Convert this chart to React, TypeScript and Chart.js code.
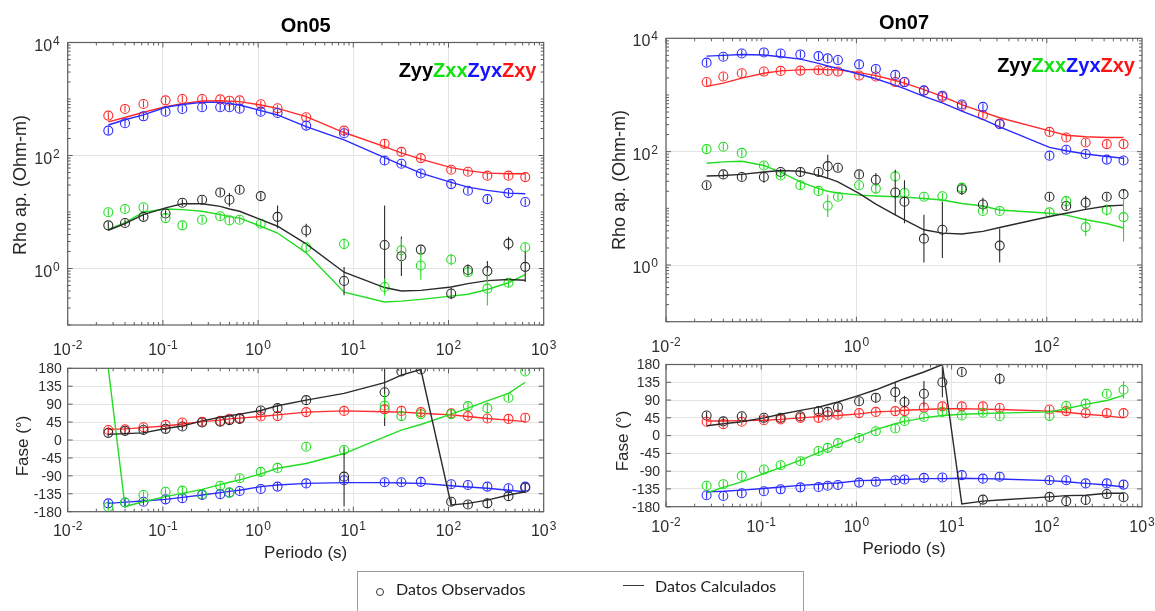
import React, { useEffect, useRef } from 'react';
import { Chart, registerables } from 'chart.js';

Chart.register(...registerables);

const SANS = '"Liberation Sans", Arial, Helvetica, sans-serif';
const RED = '#ff2a2a';
const BLUE = '#2a2aff';
const GREEN = '#22dd22';
const BLACK = '#2b2b2b';
const GRID = '#e4e4e4';
const FRAME = '#5e5e5e';
const TICK_TEXT = '#2e2e2e';

// Sounding periods (s)
const periodsOn05 = [0.0267, 0.04, 0.0625, 0.1067, 0.16, 0.2581, 0.4, 0.5, 0.64, 1.067, 1.6, 3.2, 8, 21.33, 32, 51.2, 106.7, 160, 256, 426.7, 640];
const periodsOn07 = [0.0267, 0.04, 0.0625, 0.1067, 0.16, 0.2581, 0.4, 0.5, 0.64, 1.067, 1.6, 2.56, 3.2, 5.12, 8, 12.8, 21.33, 32, 106.7, 160, 256, 426.7, 640];

// On05 apparent resistivity (Ohm-m); errors in decades
const rho05ZyyObs = [5.8, 6.4, 8.2, 9.4, 14.6, 16.5, 22.2, 16.5, 24.8, 19.1, 8.2, 4.7, 0.6, 2.6, 1.65, 2.16, 0.36, 0.94, 0.9, 2.76, 1.07];
const rho05ZyyCalc = [4.75, 6.2, 9.0, 11.8, 14.0, 14.0, 12.6, 11.3, 10.3, 7.3, 5.6, 2.72, 0.86, 0.46, 0.4, 0.41, 0.47, 0.54, 0.61, 0.64, 0.62];
const rho05ZyyErr = [0.06, 0.06, 0.06, 0.06, 0.06, 0.06, 0.06, 0.12, 0.06, 0.06, 0.2, 0.12, 0.25, 0.7, 0.35, 0.06, 0.1, 0.1, 0.18, 0.12, 0.27];
const rho05ZxxObs = [9.9, 11.3, 12.1, 7.8, 5.8, 7.3, 8.4, 7.1, 7.3, 6.2, null, 2.38, 2.72, 0.47, 2.1, 1.13, 1.44, 0.86, 0.44, 0.56, 2.38];
const rho05ZxxCalc = [4.9, 6.5, 9.9, 11.3, 11.0, 10.3, 9.0, 8.3, 7.8, 5.6, 4.25, 1.89, 0.38, 0.255, 0.265, 0.284, 0.325, 0.35, 0.425, 0.56, 0.78];
const rho05ZxxErr = [0.06, 0.06, 0.06, 0.06, 0.06, 0.06, 0.06, 0.06, 0.06, 0.06, 0.06, 0.08, 0.1, 0.15, 0.2, 0.25, 0.1, 0.06, 0.3, 0.08, 0.08];
const rho05ZyxObs = [276, 372, 494, 597, 667, 713, 713, 713, 675, 597, 566, 338, 248, 81.6, 71.3, 48, 31.2, 23.8, 16.9, 21.6, 15];
const rho05ZyxCalc = [347, 430, 522, 713, 800, 873, 873, 830, 783, 622, 522, 325, 189, 92, 68, 48.7, 33.4, 27.6, 24.1, 21.6, 21.1];
const rho05ZyxErr = [0.06, 0.06, 0.06, 0.06, 0.06, 0.06, 0.06, 0.06, 0.06, 0.06, 0.06, 0.06, 0.06, 0.08, 0.06, 0.06, 0.06, 0.06, 0.06, 0.06, 0.06];
const rho05ZxyObs = [508, 667, 817, 946, 1000, 1000, 986, 934, 946, 806, 684, 474, 276, 161, 116, 90, 56, 51.5, 44, 44, 41.5];
const rho05ZxyCalc = [393, 470, 582, 733, 830, 922, 930, 915, 898, 783, 684, 487, 255, 144, 111, 86, 61, 54, 48.7, 47.4, 47.4];
const rho05ZxyErr = [0.06, 0.06, 0.06, 0.06, 0.06, 0.06, 0.06, 0.06, 0.06, 0.06, 0.06, 0.06, 0.06, 0.08, 0.06, 0.06, 0.06, 0.06, 0.06, 0.06, 0.06];

// On05 phase (degrees)
const ph05ZyyObs = [18, 23, 25, 28, 34, 44, 46, 50, 53, 74, 80, 100, -92, 120, 172, 177, -155, -162, -159, -141, -120];
const ph05ZyyCalc = [14, 16, 18, 29, 35, 48, 57, 61, 65, 74, 86, 100, 117, 144, 163, 177, -163, -159, -151, -138, -130];
const ph05ZyyErr = [9, 9, 9, 9, 9, 9, 9, 9, 9, 9, 9, 9, 75, 85, 9, 9, 9, 9, 12, 9, 10];
const ph05ZxxObs = [-168, -157, -138, -130, -127, -136, -115, -132, -96, -80, -70, -17, -25, 86, 60, 65, 65, 85, 80, 106, 172];
const ph05ZxxCalc = [180, -167, -155, -142, -134, -124, -112, -106, -100, -85, -71, -59, -34, 8, 25, 39, 65, 80, 98, 117, 145];
const ph05ZxxErr = [9, 9, 9, 9, 9, 9, 9, 9, 9, 9, 9, 9, 9, 30, 12, 9, 9, 9, 14, 9, 9];
const ph05ZyxObs = [-159, -157, -155, -149, -146, -138, -136, -132, -128, -123, -117, -109, -101, -106, -106, -105, -111, -113, -117, -121, -117];
const ph05ZyxCalc = [-159, -156, -153, -149, -144, -138, -132, -129, -126, -117, -113, -109, -107, -107, -108, -109, -115, -118, -121, -126, -130];
const ph05ZyxErr = [9, 9, 9, 9, 9, 9, 9, 9, 9, 9, 9, 9, 9, 9, 9, 9, 9, 9, 9, 9, 9];
const ph05ZxyObs = [25, 27, 32, 38, 44, 46, 48, 53, 55, 59, 60, 70, 73, 77, 73, 70, 67, 60, 54, 53, 56];
const ph05ZxyCalc = [27, 28, 31, 35, 40, 46, 50, 53, 55, 59, 63, 70, 73, 71, 70, 67, 63, 59, 54, 50, 46];
const ph05ZxyErr = [9, 9, 9, 9, 9, 9, 9, 9, 9, 9, 9, 9, 9, 12, 9, 9, 9, 9, 9, 9, 9];

// On07 apparent resistivity (Ohm-m); errors in decades
const rho07ZyyObs = [25.5, 39.7, 35.7, 35.7, 43.7, 43.7, 43.7, 55.5, 51.9, 39.7, 32, 19, 13.1, 2.92, 4.19, 21.7, 11.7, 2.2, 16, 11, 12.6, 16, 17.8];
const rho07ZyyCalc = [37.1, 38, 39.7, 43.7, 46.6, 45, 38.1, 34, 29.2, 18.3, 11.9, 7.66, 6.27, 4.19, 3.66, 3.52, 3.92, 4.6, 7.17, 8.2, 9.6, 11, 11.4];
const rho07ZyyErr = [0.06, 0.06, 0.06, 0.1, 0.06, 0.08, 0.06, 0.2, 0.06, 0.06, 0.12, 0.4, 0.38, 0.42, 0.5, 0.1, 0.12, 0.3, 0.06, 0.06, 0.12, 0.06, 0.08];
const rho07ZxxObs = [111, 122, 95, 57, 38, 25.5, 20.3, 11.1, 16, 25.5, 22.3, 36.6, 18.7, 16, 16.3, 23.2, 9, 9, 8.5, 13.4, 4.67, 9.35, 7];
const rho07ZxxCalc = [62.6, 66, 67.8, 57, 43.7, 29.2, 22.3, 20, 18.7, 17.1, 16.5, 16, 15.8, 14.9, 14, 12.2, 11, 9.35, 8.2, 7.6, 6.3, 5.4, 4.5];
const rho07ZxxErr = [0.06, 0.06, 0.06, 0.06, 0.06, 0.08, 0.06, 0.2, 0.06, 0.06, 0.08, 0.06, 0.06, 0.06, 0.06, 0.06, 0.06, 0.06, 0.06, 0.08, 0.16, 0.1, 0.43];
const rho07ZyxObs = [3715, 4720, 5400, 5630, 5400, 5190, 4850, 4420, 4130, 3470, 2880, 2260, 1690, 1205, 972, 678, 618, 304, 85, 108, 91, 72.4, 69.7];
const rho07ZyxCalc = [4850, 5000, 5190, 5060, 4720, 4300, 3610, 3250, 2950, 2320, 1930, 1475, 1290, 948, 725, 519, 371, 273, 119, 104, 91, 82, 76.5];
const rho07ZyxErr = [0.06, 0.06, 0.06, 0.06, 0.06, 0.06, 0.06, 0.06, 0.06, 0.06, 0.06, 0.06, 0.06, 0.06, 0.06, 0.06, 0.06, 0.06, 0.06, 0.06, 0.06, 0.06, 0.06];
const rho07ZxyObs = [1690, 2120, 2420, 2590, 2660, 2690, 2730, 2660, 2590, 2200, 2120, 1690, 1690, 1190, 922, 634, 441, 312, 223, 178, 145, 136, 136];
const rho07ZxyCalc = [1415, 1620, 1980, 2420, 2660, 2770, 2840, 2800, 2770, 2480, 2200, 1800, 1620, 1240, 948, 678, 499, 397, 232, 195, 183, 178, 178];
const rho07ZxyErr = [0.06, 0.06, 0.06, 0.06, 0.06, 0.06, 0.06, 0.06, 0.06, 0.06, 0.06, 0.06, 0.06, 0.06, 0.06, 0.06, 0.06, 0.06, 0.06, 0.06, 0.06, 0.06, 0.06];

// On07 phase (degrees)
const ph07ZyyObs = [51, 36, 49, 45, 45, 49, 62, 60, 72, 87, 96, 110, 85, 106, 135, 161, -162, 144, -155, -166, -163, -148, -156];
const ph07ZyyCalc = [25, 30, 35, 45, 54, 64, 72, 78, 85, 102, 116, 135, 144, 161, 180, -173, -166, -163, -155, -152, -151, -146, -146];
const ph07ZyyErr = [9, 9, 9, 9, 9, 9, 9, 9, 9, 9, 12, 25, 16, 32, 38, 9, 9, 14, 9, 9, 12, 9, 9];
const ph07ZxxObs = [-127, -123, -102, -86, -75, -65, -39, -31, -19, -6, 11, 18, 37, 47, 60, 51, 58, 49, 50, 75, 81, 106, 116];
const ph07ZxxCalc = [-145, -131, -117, -96, -81, -62, -43, -33, -22, -2, 15, 30, 36, 45, 51, 54, 56, 57, 60, 68, 79, 89, 102];
const ph07ZxxErr = [9, 9, 9, 9, 9, 9, 9, 12, 9, 9, 9, 9, 9, 9, 9, 9, 9, 9, 9, 9, 9, 9, 22];
const ph07ZyxObs = [-151, -153, -146, -141, -136, -131, -130, -127, -125, -119, -117, -113, -111, -107, -106, -100, -109, -104, -113, -113, -121, -121, -124];
const ph07ZyxCalc = [-142, -141, -138, -134, -130, -126, -123, -121, -120, -114, -113, -111, -111, -109, -109, -108, -109, -110, -114, -117, -121, -125, -130];
const ph07ZyxErr = [9, 9, 9, 9, 9, 9, 9, 9, 9, 9, 9, 9, 9, 9, 9, 9, 9, 9, 9, 9, 9, 9, 9];
const ph07ZxyObs = [35, 29, 35, 39, 41, 45, 45, 51, 53, 57, 60, 62, 62, 71, 74, 74, 74, 70, 66, 62, 57, 57, 57];
const ph07ZxyCalc = [37, 37, 38, 39, 41, 45, 48, 50, 51, 55, 60, 62, 64, 66, 68, 68, 67, 66, 62, 59, 54, 50, 45];
const ph07ZxyErr = [9, 9, 9, 9, 9, 9, 9, 9, 9, 9, 9, 9, 9, 9, 9, 9, 9, 9, 9, 9, 9, 9, 9];

// Axis tick definitions
const periodExps = [-2, -1, 0, 1, 2, 3];
const periodExpsSparse = [-2, 0, 2];
const rhoExps = [0, 2, 4];
const phaseTicks = [-180, -135, -90, -45, 0, 45, 90, 135, 180];

type Curve = { color: string; obs: (number | null)[]; calc: number[]; err: number[] };
type Panel = {
  kind: 'rho' | 'phase';
  periods: number[];
  curves: Curve[];
  left: number;
  top: number;
  width: number;
  height: number;
  pad: { left: number; top: number; right: number; bottom: number };
  xMajor: number[];
  xLabelDy: number;
};

function drawPow(ctx: CanvasRenderingContext2D, exp: number, x: number, base: number, align: 'center' | 'right') {
  ctx.fillStyle = TICK_TEXT;
  ctx.textAlign = 'left';
  ctx.textBaseline = 'alphabetic';
  ctx.font = `16px ${SANS}`;
  const b = '10';
  const wb = ctx.measureText(b).width;
  ctx.font = `12px ${SANS}`;
  const s = String(exp);
  const ws = ctx.measureText(s).width;
  const total = wb + 1 + ws;
  const x0 = align === 'center' ? x - total / 2 : x - total;
  ctx.font = `16px ${SANS}`;
  ctx.fillText(b, x0, base);
  ctx.font = `12px ${SANS}`;
  ctx.fillText(s, x0 + wb + 1, base - 6);
}

const axisDecor = {
  id: 'axisDecor',
  afterDatasetsDraw(chart: any) {
    const { ctx, chartArea: a, scales } = chart;
    const xs = scales.x;
    const ys = scales.y;
    ctx.save();
    ctx.beginPath();
    ctx.rect(a.left, a.top, a.right - a.left, a.bottom - a.top);
    ctx.clip();
    chart.data.datasets.forEach((ds: any) => {
      if (!ds.errBars) return;
      ctx.strokeStyle = ds.borderColor;
      ctx.lineWidth = 1.1;
      ds.data.forEach((pt: any, i: number) => {
        if (pt.y == null) return;
        const e = ds.errBars[i];
        const hi = ds.logErr ? pt.y * Math.pow(10, e) : pt.y + e;
        const lo = ds.logErr ? pt.y / Math.pow(10, e) : pt.y - e;
        const px = xs.getPixelForValue(pt.x);
        ctx.beginPath();
        ctx.moveTo(px, ys.getPixelForValue(hi));
        ctx.lineTo(px, ys.getPixelForValue(lo));
        ctx.stroke();
      });
    });
    ctx.restore();
  },
  afterDraw(chart: any, _args: any, opts: any) {
    const { ctx, chartArea: a, scales } = chart;
    const xs = scales.x;
    const ys = scales.y;
    const seg = (x1: number, y1: number, x2: number, y2: number) => {
      ctx.beginPath();
      ctx.moveTo(x1, y1);
      ctx.lineTo(x2, y2);
      ctx.stroke();
    };
    ctx.save();
    ctx.strokeStyle = FRAME;
    ctx.lineWidth = 1;
    // period ticks, top and bottom
    for (let e = -2; e < 3; e++) {
      for (let m = 1; m < 10; m++) {
        const px = xs.getPixelForValue(m * Math.pow(10, e));
        const len = m === 1 && opts.xMajor.includes(e) ? 5 : 3;
        seg(px, a.bottom, px, a.bottom - len);
        seg(px, a.top, px, a.top + len);
      }
    }
    // value ticks, left and right
    if (opts.kind === 'rho') {
      for (let e = -1; e < 4; e++) {
        for (let m = 1; m < 10; m++) {
          const py = ys.getPixelForValue(m * Math.pow(10, e));
          const len = m === 1 && rhoExps.includes(e) ? 5 : 3;
          seg(a.left, py, a.left + len, py);
          seg(a.right, py, a.right - len, py);
        }
      }
    } else {
      phaseTicks.forEach((v) => {
        const py = ys.getPixelForValue(v);
        seg(a.left, py, a.left + 5, py);
        seg(a.right, py, a.right - 5, py);
      });
    }
    // box
    ctx.lineWidth = 1.2;
    ctx.strokeRect(a.left, a.top, a.right - a.left, a.bottom - a.top);

    // tick labels
    opts.xMajor.forEach((e: number) => {
      drawPow(ctx, e, xs.getPixelForValue(Math.pow(10, e)), a.bottom + opts.xLabelDy, 'center');
    });
    if (opts.kind === 'rho') {
      rhoExps.forEach((e) => {
        drawPow(ctx, e, a.left - 8, ys.getPixelForValue(Math.pow(10, e)) + 8, 'right');
      });
    } else {
      ctx.fillStyle = TICK_TEXT;
      ctx.font = `14px ${SANS}`;
      ctx.textAlign = 'right';
      ctx.textBaseline = 'middle';
      phaseTicks.forEach((v) => ctx.fillText(String(v), a.left - 6, ys.getPixelForValue(v) + 1));
    }
    ctx.restore();
  },
};

function buildConfig(p: Panel) {
  const logErr = p.kind === 'rho';
  const datasets: any[] = [];
  p.curves.forEach((c) => {
    datasets.push({
      data: p.periods.map((t, i) => ({ x: t, y: c.calc[i] })),
      borderColor: c.color,
      borderWidth: 1.4,
      pointRadius: 0,
      fill: false,
      tension: 0,
    });
    datasets.push({
      data: p.periods.map((t, i) => ({ x: t, y: c.obs[i] })),
      showLine: false,
      borderColor: c.color,
      pointBorderColor: c.color,
      pointBackgroundColor: 'rgba(0,0,0,0)',
      pointStyle: 'circle',
      pointRadius: 4.5,
      pointBorderWidth: 1.1,
      errBars: c.err,
      logErr,
    });
  });
  const yScale =
    p.kind === 'rho'
      ? {
          type: 'logarithmic',
          min: 0.1,
          max: 10000,
          afterBuildTicks: (s: any) => {
            s.ticks = rhoExps.map((e) => ({ value: Math.pow(10, e) }));
          },
        }
      : {
          type: 'linear',
          min: -180,
          max: 180,
          afterBuildTicks: (s: any) => {
            s.ticks = phaseTicks.map((v) => ({ value: v }));
          },
        };
  return {
    type: 'line',
    data: { datasets },
    options: {
      animation: false,
      responsive: false,
      maintainAspectRatio: false,
      events: [],
      layout: { padding: p.pad },
      plugins: {
        legend: { display: false },
        tooltip: { enabled: false },
        axisDecor: { kind: p.kind, xMajor: p.xMajor, xLabelDy: p.xLabelDy },
      },
      scales: {
        x: {
          type: 'logarithmic',
          min: 0.01,
          max: 1000,
          ticks: { display: false },
          grid: { color: GRID, lineWidth: 1, drawTicks: false },
          border: { display: false },
          afterBuildTicks: (s: any) => {
            s.ticks = p.xMajor.map((e) => ({ value: Math.pow(10, e) }));
          },
          afterFit: (s: any) => {
            s.height = 0;
          },
        },
        y: {
          ...yScale,
          ticks: { display: false },
          grid: { color: GRID, lineWidth: 1, drawTicks: false },
          border: { display: false },
          afterFit: (s: any) => {
            s.width = 0;
          },
        },
      },
    },
    plugins: [axisDecor],
  };
}

function ChartPanel({ panel }: { panel: Panel }) {
  const ref = useRef<HTMLCanvasElement>(null);
  useEffect(() => {
    if (!ref.current) return;
    const chart = new Chart(ref.current, buildConfig(panel) as any);
    return () => chart.destroy();
  }, [panel]);
  return (
    <canvas
      ref={ref}
      width={panel.width}
      height={panel.height}
      style={{ position: 'absolute', left: panel.left, top: panel.top, width: panel.width, height: panel.height }}
    />
  );
}

const panels: Panel[] = [
  {
    kind: 'rho',
    periods: periodsOn05,
    curves: [
      { color: BLACK, obs: rho05ZyyObs, calc: rho05ZyyCalc, err: rho05ZyyErr },
      { color: GREEN, obs: rho05ZxxObs, calc: rho05ZxxCalc, err: rho05ZxxErr },
      { color: BLUE, obs: rho05ZyxObs, calc: rho05ZyxCalc, err: rho05ZyxErr },
      { color: RED, obs: rho05ZxyObs, calc: rho05ZxyCalc, err: rho05ZxyErr },
    ],
    left: 0,
    top: 0,
    width: 600,
    height: 362,
    pad: { left: 67.7, top: 42.5, right: 56.3, bottom: 37 },
    xMajor: periodExps,
    xLabelDy: 30,
  },
  {
    kind: 'phase',
    periods: periodsOn05,
    curves: [
      { color: BLACK, obs: ph05ZyyObs, calc: ph05ZyyCalc, err: ph05ZyyErr },
      { color: GREEN, obs: ph05ZxxObs, calc: ph05ZxxCalc, err: ph05ZxxErr },
      { color: BLUE, obs: ph05ZyxObs, calc: ph05ZyxCalc, err: ph05ZyxErr },
      { color: RED, obs: ph05ZxyObs, calc: ph05ZxyCalc, err: ph05ZxyErr },
    ],
    left: 0,
    top: 352,
    width: 600,
    height: 200,
    pad: { left: 67.7, top: 16.3, right: 56.3, bottom: 40.3 },
    xMajor: periodExps,
    xLabelDy: 24,
  },
  {
    kind: 'rho',
    periods: periodsOn07,
    curves: [
      { color: BLACK, obs: rho07ZyyObs, calc: rho07ZyyCalc, err: rho07ZyyErr },
      { color: GREEN, obs: rho07ZxxObs, calc: rho07ZxxCalc, err: rho07ZxxErr },
      { color: BLUE, obs: rho07ZyxObs, calc: rho07ZyxCalc, err: rho07ZyxErr },
      { color: RED, obs: rho07ZxyObs, calc: rho07ZxyCalc, err: rho07ZxyErr },
    ],
    left: 590,
    top: 0,
    width: 565,
    height: 362,
    pad: { left: 76, top: 38.3, right: 13, bottom: 40.3 },
    xMajor: periodExpsSparse,
    xLabelDy: 30,
  },
  {
    kind: 'phase',
    periods: periodsOn07,
    curves: [
      { color: BLACK, obs: ph07ZyyObs, calc: ph07ZyyCalc, err: ph07ZyyErr },
      { color: GREEN, obs: ph07ZxxObs, calc: ph07ZxxCalc, err: ph07ZxxErr },
      { color: BLUE, obs: ph07ZyxObs, calc: ph07ZyxCalc, err: ph07ZyxErr },
      { color: RED, obs: ph07ZxyObs, calc: ph07ZxyCalc, err: ph07ZxyErr },
    ],
    left: 590,
    top: 350,
    width: 565,
    height: 200,
    pad: { left: 76, top: 14.5, right: 13, bottom: 43.3 },
    xMajor: periodExps,
    xLabelDy: 25,
  },
];

type Label = { text: string; x: number; y: number; size: number; bold?: boolean; rotate?: boolean };

const labels: Label[] = [
  { text: 'On05', x: 305.7, y: 25, size: 20, bold: true },
  { text: 'On07', x: 904, y: 22, size: 20, bold: true },
  { text: 'Rho ap. (Ohm-m)', x: 20, y: 185, size: 18, rotate: true },
  { text: 'Rho ap. (Ohm-m)', x: 619, y: 180, size: 18, rotate: true },
  { text: 'Fase (°)', x: 22, y: 446, size: 17, rotate: true },
  { text: 'Fase (°)', x: 622, y: 441, size: 17, rotate: true },
  { text: 'Periodo (s)', x: 305.7, y: 552, size: 17 },
  { text: 'Periodo (s)', x: 904, y: 548, size: 17 },
];

const componentKeys = [
  { text: 'Zyy', color: '#000000' },
  { text: 'Zxx', color: '#11e011' },
  { text: 'Zyx', color: '#1414ff' },
  { text: 'Zxy', color: '#ff1414' },
];

function ComponentKey({ right, y }: { right: number; y: number }) {
  return (
    <div
      style={{
        position: 'absolute',
        right: 1155 - right,
        top: y,
        transform: 'translateY(-50%)',
        font: `bold 20px ${SANS}`,
        whiteSpace: 'nowrap',
        lineHeight: 1,
      }}
    >
      {componentKeys.map((k) => (
        <span key={k.text} style={{ color: k.color }}>
          {k.text}
        </span>
      ))}
    </div>
  );
}

export default function App() {
  return (
    <div
      style={{
        position: 'fixed',
        left: 0,
        top: 0,
        width: 1155,
        height: 611,
        overflow: 'hidden',
        background: '#ffffff',
      }}
    >
      {panels.map((p, i) => (
        <ChartPanel key={i} panel={p} />
      ))}
      {labels.map((l, i) => (
        <div
          key={i}
          style={{
            position: 'absolute',
            left: l.x,
            top: l.y,
            transform: `translate(-50%, -50%)${l.rotate ? ' rotate(-90deg)' : ''}`,
            font: `${l.bold ? 'bold ' : ''}${l.size}px ${SANS}`,
            color: l.bold ? '#000000' : '#262626',
            whiteSpace: 'nowrap',
            lineHeight: 1,
          }}
        >
          {l.text}
        </div>
      ))}
      <ComponentKey right={536.5} y={70} />
      <ComponentKey right={1135} y={65} />

      {/* shared legend */}
      <div
        style={{
          position: 'absolute',
          left: 357,
          top: 571,
          width: 447,
          height: 60,
          border: '1px solid #9c9c9c',
          boxSizing: 'border-box',
        }}
      />
      <div
        style={{
          position: 'absolute',
          left: 375.5,
          top: 587.5,
          width: 8,
          height: 8,
          border: '1.3px solid #333333',
          borderRadius: '50%',
          boxSizing: 'border-box',
        }}
      />
      <div
        style={{
          position: 'absolute',
          left: 396,
          top: 589,
          transform: 'translateY(-50%)',
          font: '16px Lato, "Open Sans", sans-serif',
          color: '#1e1e1e',
          whiteSpace: 'nowrap',
          lineHeight: 1,
        }}
      >
        Datos Observados
      </div>
      <div style={{ position: 'absolute', left: 623, top: 585, width: 21, height: 0, borderTop: '1.2px solid #3a3a3a' }} />
      <div
        style={{
          position: 'absolute',
          left: 655,
          top: 586,
          transform: 'translateY(-50%)',
          font: '16px Lato, "Open Sans", sans-serif',
          color: '#1e1e1e',
          whiteSpace: 'nowrap',
          lineHeight: 1,
        }}
      >
        Datos Calculados
      </div>
    </div>
  );
}
